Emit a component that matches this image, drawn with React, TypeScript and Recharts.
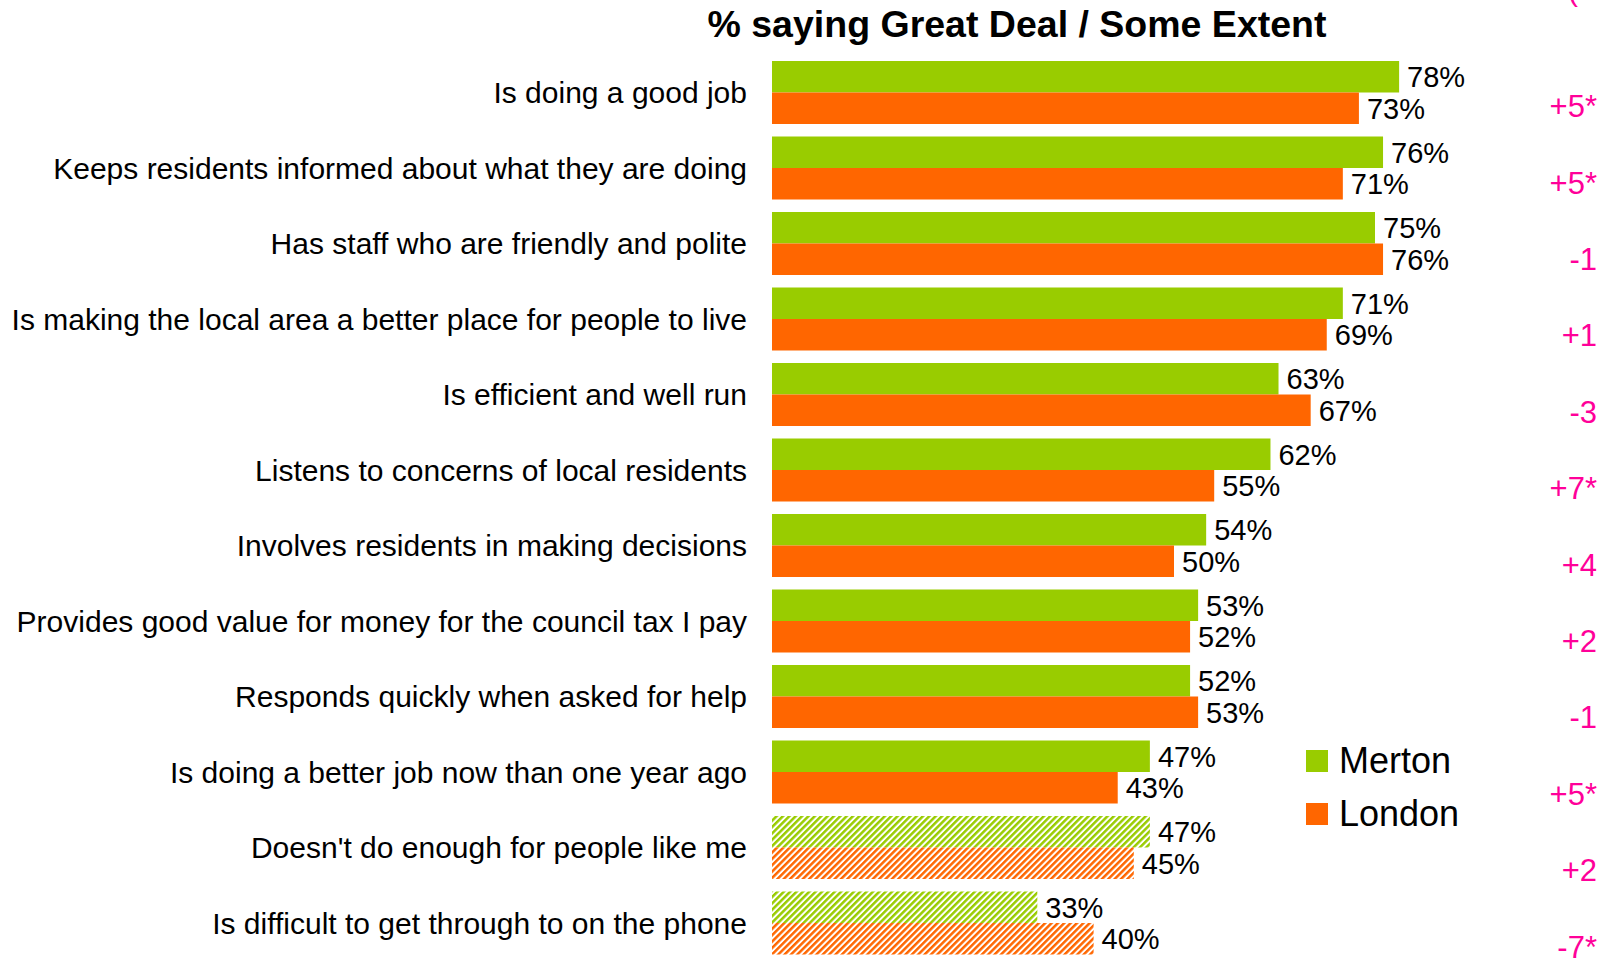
import React from 'react';
import { BarChart, Bar, XAxis, YAxis, Cell, LabelList } from 'recharts';

const categories = [
  'Is doing a good job',
  'Keeps residents informed about what they are doing',
  'Has staff who are friendly and polite',
  'Is making the local area a better place for people to live',
  'Is efficient and well run',
  'Listens to concerns of local residents',
  'Involves residents in making decisions',
  'Provides good value for money for the council tax I pay',
  'Responds quickly when asked for help',
  'Is doing a better job now than one year ago',
  "Doesn't do enough for people like me",
  'Is difficult to get through to on the phone',
];
const merton = [78, 76, 75, 71, 63, 62, 54, 53, 52, 47, 47, 33];
const london = [73, 71, 76, 69, 67, 55, 50, 52, 53, 43, 45, 40];
const diffs = ['+5*', '+5*', '-1', '+1', '-3', '+7*', '+4', '+2', '-1', '+5*', '+2', '-7*'];
// negative statements are drawn hatched
const negative = [false, false, false, false, false, false, false, false, false, false, true, true];
const seriesNames = ['Merton', 'London'];

const GREEN = '#99CC00';
const ORANGE = '#FF6600';
const PINK = '#FF0099';

const chartData = categories.map((name, i) => ({
  name,
  merton: merton[i],
  london: london[i],
}));

const CategoryTick = (props: any) => {
  const { y, payload } = props;
  return (
    <text x={747} y={y} textAnchor="end" dominantBaseline="central" fontSize={30} fill="#000">
      {payload.value}
    </text>
  );
};

const DiffTick = (props: any) => {
  const { y, index } = props;
  return (
    <text x={1597} y={y + 14 + index * 0.9} textAnchor="end" dominantBaseline="central" fontSize={31} fill={PINK}>
      {diffs[index]}
    </text>
  );
};

const pct = (v: any) => `${v}%`;

export default function App() {
  return (
    <div style={{ position: 'relative', width: 1600, height: 964, background: '#fff', fontFamily: 'Liberation Sans, Arial, sans-serif', overflow: 'hidden' }}>
      <style>{`body{margin:0}`}</style>
      <svg width={0} height={0} style={{ position: 'absolute' }}>
        <defs>
          <pattern id="hatchGreen" patternUnits="userSpaceOnUse" width={4.5} height={4.5} patternTransform="rotate(45)">
            <rect width={4.5} height={4.5} fill="#fff" />
            <rect width={2.5} height={4.5} fill={GREEN} />
          </pattern>
          <pattern id="hatchOrange" patternUnits="userSpaceOnUse" width={4.5} height={4.5} patternTransform="rotate(45)">
            <rect width={4.5} height={4.5} fill="#fff" />
            <rect width={2.5} height={4.5} fill={ORANGE} />
          </pattern>
        </defs>
      </svg>
      <div style={{ position: 'absolute', left: 0, width: 2034, top: 3, textAlign: 'center', fontSize: 37.5, fontWeight: 'bold', color: '#000' }}>
        % saying Great Deal / Some Extent
      </div>
      <div style={{ position: 'absolute', left: 1568, top: -26, fontSize: 30, color: PINK }}>(</div>
      <BarChart
        width={1600}
        height={964}
        data={chartData}
        layout="vertical"
        margin={{ top: 55, right: 0, left: 0, bottom: 3 }}
        barGap={0}
        barSize={31.5}
      >
        <XAxis type="number" domain={[0, 100]} hide />
        <YAxis yAxisId="cat" type="category" dataKey="name" width={772} axisLine={false} tickLine={false} tick={<CategoryTick />} interval={0} />
        <YAxis yAxisId="diff" orientation="right" type="category" dataKey="name" width={24} axisLine={false} tickLine={false} tick={<DiffTick />} interval={0} />
        <Bar yAxisId="cat" dataKey="merton" name={seriesNames[0]} fill={GREEN} isAnimationActive={false}>
          {chartData.map((d, i) => (
            <Cell key={d.name} fill={negative[i] ? 'url(#hatchGreen)' : GREEN} />
          ))}
          <LabelList dataKey="merton" position="right" offset={8} formatter={pct} fontSize={29} fill="#000" />
        </Bar>
        <Bar yAxisId="cat" dataKey="london" name={seriesNames[1]} fill={ORANGE} isAnimationActive={false}>
          {chartData.map((d, i) => (
            <Cell key={d.name} fill={negative[i] ? 'url(#hatchOrange)' : ORANGE} />
          ))}
          <LabelList dataKey="london" position="right" offset={8} formatter={pct} fontSize={29} fill="#000" />
        </Bar>
      </BarChart>
      <div style={{ position: 'absolute', left: 1306, top: 734 }}>
        {seriesNames.map((label, i) => (
          <div key={label} style={{ display: 'flex', alignItems: 'center', height: 53 }}>
            <div style={{ width: 22, height: 22, background: i === 0 ? GREEN : ORANGE, marginRight: 11 }} />
            <span style={{ fontSize: 36, color: '#000' }}>{label}</span>
          </div>
        ))}
      </div>
    </div>
  );
}
